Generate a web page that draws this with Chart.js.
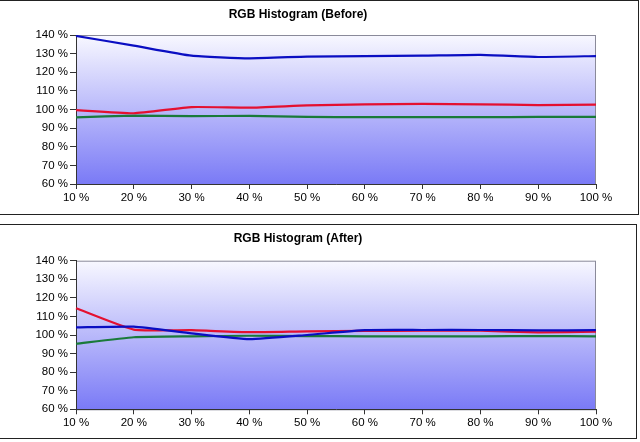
<!DOCTYPE html>
<html>
<head>
<meta charset="utf-8">
<script src="https://cdn.jsdelivr.net/npm/chart.js@4/dist/chart.umd.min.js"></script>
<style>
  html, body { margin: 0; padding: 0; background: #fff; width: 640px; height: 442px; overflow: hidden; }
  canvas { position: absolute; left: 0; }
  .box { position: absolute; box-sizing: border-box; border: 1px solid #222; pointer-events: none; }
</style>
</head>
<body>
<canvas id="c1" width="640" height="214" style="top:0px"></canvas>
<canvas id="c2" width="640" height="215" style="top:224px"></canvas>
<div class="box" style="left:-1px; top:0px; width:640px; height:215px;"></div>
<div class="box" style="left:-1px; top:224px; width:638px; height:215px;"></div>
<script>
const categories = ['10 %', '20 %', '30 %', '40 %', '50 %', '60 %', '70 %', '80 %', '90 %', '100 %'];
const yTickValues = [60, 70, 80, 90, 100, 110, 120, 130, 140];

const beforeBlue  = [139.5, 134.3, 128.9, 127.5, 128.4, 128.7, 128.9, 129.3, 128.2, 128.7];
const beforeRed   = [99.7, 98.0, 101.3, 101.0, 102.2, 102.8, 103.0, 102.8, 102.4, 102.6];
const beforeGreen = [95.8, 96.7, 96.4, 96.6, 96.0, 95.9, 95.9, 95.9, 96.0, 96.0];

const afterBlue  = [104.1, 104.5, 100.9, 97.8, 100.0, 102.6, 102.7, 102.7, 102.5, 102.6];
const afterRed   = [114.4, 102.9, 102.6, 101.5, 102.0, 102.2, 102.3, 102.3, 101.4, 101.8];
const afterGreen = [95.3, 98.8, 99.3, 99.6, 99.4, 99.3, 99.3, 99.3, 99.4, 99.3];

const FONT = "'Liberation Sans', Arial, sans-serif";

const bgPlugin = {
  id: 'plotBg',
  beforeDraw(chart) {
    const a = chart.chartArea, ctx = chart.ctx;
    const g = ctx.createLinearGradient(0, a.top, 0, a.bottom);
    g.addColorStop(0, '#f8f8ff');
    g.addColorStop(1, '#7a7af6');
    ctx.save();
    ctx.fillStyle = g;
    ctx.fillRect(a.left, a.top, a.right - a.left, a.bottom - a.top);
    ctx.strokeStyle = '#8a8a9a';
    ctx.lineWidth = 1;
    ctx.strokeRect(a.left + 0.5, a.top + 0.5, a.right - a.left - 1, a.bottom - a.top);
    ctx.restore();
  }
};

function makeChart(id, title, blue, red, green, titlePad, xHeight) {
  return new Chart(document.getElementById(id), {
    type: 'line',
    data: {
      labels: categories,
      datasets: [
        { label: 'Blue', data: blue, borderColor: '#0a0ec2', borderWidth: 2.2, pointRadius: 0, tension: 0.15, fill: false },
        { label: 'Red', data: red, borderColor: '#e41030', borderWidth: 2.2, pointRadius: 0, tension: 0.15, fill: false },
        { label: 'Green', data: green, borderColor: '#1a7a3a', borderWidth: 2.2, pointRadius: 0, tension: 0.15, fill: false }
      ]
    },
    options: {
      responsive: false,
      animation: false,
      devicePixelRatio: 1,
      layout: { padding: { left: 0, right: 44, top: 0, bottom: 0 } },
      plugins: {
        legend: { display: false },
        tooltip: { enabled: false },
        title: {
          display: true,
          text: title,
          color: '#000',
          font: { family: FONT, size: 12, weight: 'bold' },
          padding: titlePad
        }
      },
      scales: {
        x: {
          offset: false,
          grid: { display: true, drawOnChartArea: false, drawTicks: true, tickLength: 5, color: '#333' },
          border: { display: true, color: '#333', width: 1 },
          ticks: { color: '#000', font: { family: FONT, size: 11.5 }, padding: 2, maxRotation: 0, autoSkip: false },
          afterFit: s => { s.height = xHeight; }
        },
        y: {
          min: 60, max: 140,
          afterBuildTicks: s => { s.ticks = yTickValues.map(v => ({ value: v })); },
          grid: { display: true, drawOnChartArea: false, drawTicks: true, tickLength: 6, color: '#333' },
          border: { display: true, color: '#333', width: 1 },
          ticks: { color: '#000', font: { family: FONT, size: 11.5 }, padding: 2, callback: v => v + ' %' },
          afterFit: s => { s.width = 76; }
        }
      }
    },
    plugins: [bgPlugin]
  });
}

makeChart('c1', 'RGB Histogram (Before)', beforeBlue, beforeRed, beforeGreen, { top: 7, bottom: 13.6 }, 30);
makeChart('c2', 'RGB Histogram (After)', afterBlue, afterRed, afterGreen, { top: 7.8, bottom: 14.5 }, 29.7);
</script>
</body>
</html>
